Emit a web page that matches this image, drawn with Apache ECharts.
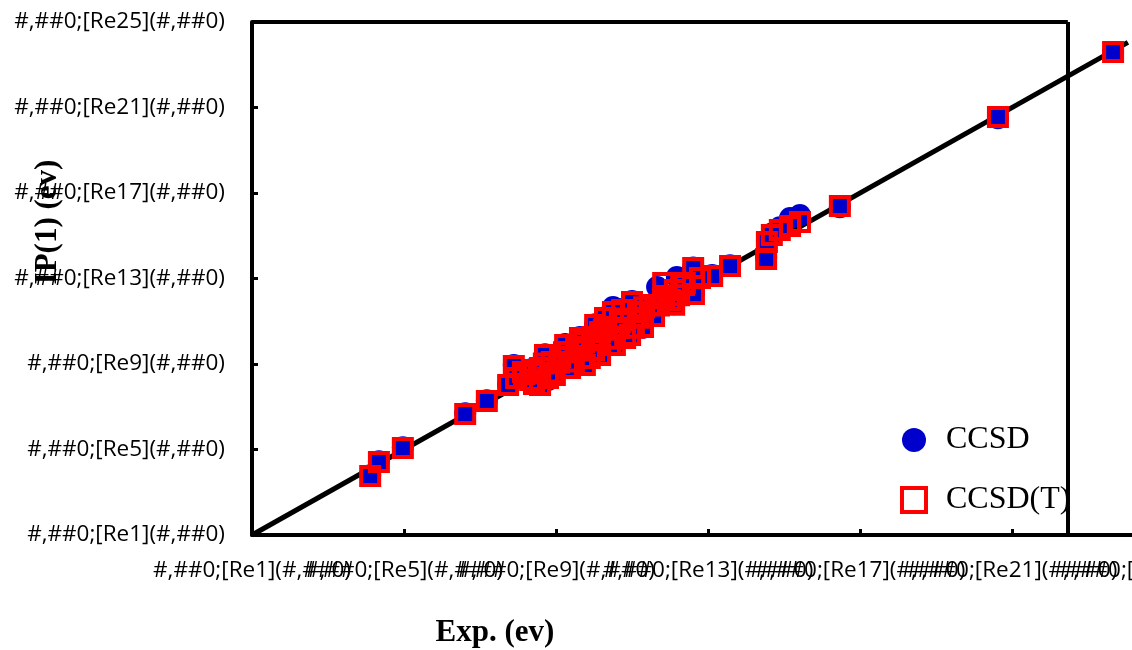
<!DOCTYPE html>
<html>
<head>
<meta charset="utf-8">
<script src="https://cdn.jsdelivr.net/npm/echarts@6/dist/echarts.min.js"></script>
<style>html,body{margin:0;padding:0;background:#fff}#c{width:1132px;height:650px}</style>
</head>
<body>
<div id="c"></div>
<script>
// ---- data ----
const tickValues = [1, 5, 9, 13, 17, 21, 25];
const labelValuesA = [1, 9, 17, 25];
const labelValuesB = [5, 13, 21];
const ccsdExp = [4.11,4.34,4.97,6.61,7.18,7.74,7.95,7.89,8.13,8.37,8.58,8.79,8.89,9.11,9.32,9.53,9.74,9.95,10.16,10.32,10.50,10.68,11.00,11.29,11.16,11.66,11.82,12.18,12.39,12.61,12.79,13.11,13.58,14.53,14.55,14.68,14.89,15.16,15.42,16.47,20.63,23.66,9.37,9.89,10.42,10.82,8.97,8.71,9.24,9.63,10.03,10.29,10.74,9.76,10.16,10.55,10.95,11.61,12.00,8.32,8.58,
  8.16,8.42,8.68,8.95,9.21,9.47,9.74,10.00,10.26,10.53,10.79,11.05,11.32,11.58,11.84,12.11,12.37,12.63,8.55,9.08,9.60,10.13,10.66,11.18,11.71,12.24];
const ccsdIP  = [3.80,4.45,5.10,6.70,7.30,8.05,8.40,8.95,8.66,8.77,8.85,8.25,9.12,9.38,9.60,9.84,10.08,10.30,10.55,10.78,11.67,11.00,11.95,10.70,11.48,12.60,12.14,13.07,12.83,13.52,13.06,13.16,13.62,14.00,14.75,15.10,15.40,15.83,15.97,16.33,20.50,23.60,8.86,9.32,9.93,10.26,8.53,9.46,9.93,10.26,10.86,11.19,11.57,8.99,9.46,9.93,10.40,11.80,12.04,8.29,8.06,
  8.57,8.10,9.06,8.63,9.59,9.15,10.12,9.69,10.64,10.21,11.17,10.73,11.70,11.27,12.22,11.80,12.74,12.31,8.61,9.10,9.67,10.15,10.73,11.20,11.78,12.26];
const ccsdtExp = [4.11,4.34,4.97,6.61,7.18,7.74,7.95,7.89,8.13,8.37,8.58,8.79,8.89,9.11,9.32,9.53,9.74,9.95,10.16,10.32,10.50,10.68,11.00,11.29,11.16,11.47,11.82,11.82,12.13,12.39,12.61,12.79,13.11,13.58,14.53,14.55,14.68,14.89,15.16,15.42,16.47,20.63,23.66,9.37,9.89,10.42,10.82,8.97,8.71,9.24,9.63,10.03,10.29,10.74,9.76,10.16,10.55,10.95,11.61,12.00,8.32,8.58,
  8.16,8.42,8.68,8.95,9.21,9.47,9.74,10.00,10.26,10.53,10.79,11.05,11.32,11.58,11.84,12.11,12.37,12.63,8.55,9.08,9.60,10.13,10.66,11.18,11.71,12.24];
const ccsdtIP  = [3.76,4.42,5.07,6.66,7.27,8.02,8.35,8.91,8.63,8.72,8.81,8.34,9.09,9.33,9.56,9.80,10.03,10.26,10.50,10.73,11.43,10.96,11.90,10.73,11.43,11.76,12.09,12.79,12.46,12.79,13.49,13.02,13.12,13.58,13.91,14.71,15.04,15.27,15.46,15.64,16.39,20.56,23.60,8.81,9.28,9.89,10.22,8.49,9.42,9.89,10.22,10.82,11.15,11.53,8.95,9.42,9.89,10.36,11.76,12.00,8.25,8.02,
  8.53,8.07,9.02,8.60,9.55,9.12,10.08,9.66,10.60,10.18,11.13,10.70,11.66,11.24,12.18,11.77,12.70,12.28,8.57,9.06,9.63,10.11,10.69,11.16,11.74,12.22];
const fitX = [1, 24.05];          // y = x reference line
const frameX = 22.47;             // right edge of the plot frame
const axisMin = 1, axisMax = 25;

const fmt = v => '#,##0;[Re' + v + '](#,##0)';
const chart = echarts.init(document.getElementById('c'));
const labelFont = { fontFamily: 'Open Sans', fontSize: 22.5, color: '#000' };

function xAxisDef(labels, showLine) {
  return {
    type: 'value', min: axisMin, max: axisMax, position: 'bottom', offset: 0,
    splitLine: { show: false },
    axisLine: { show: showLine, onZero: false, lineStyle: { color: '#000', width: 4 } },
    axisTick: { show: showLine, inside: true, length: 6, lineStyle: { color: '#000', width: 3 }, customValues: tickValues },
    axisLabel: Object.assign({ margin: 24, formatter: fmt, customValues: labels, showMinLabel: true, showMaxLabel: true, hideOverlap: false }, labelFont)
  };
}

chart.setOption({
  animation: false,
  backgroundColor: '#fff',
  grid: { left: 252, top: 22, right: -32, bottom: 115, containLabel: false, outerBoundsMode: 'none' },
  xAxis: [xAxisDef(labelValuesA, true), xAxisDef(labelValuesB, false)],
  yAxis: {
    type: 'value', min: axisMin, max: axisMax,
    splitLine: { show: false },
    axisLine: { show: true, onZero: false, lineStyle: { color: '#000', width: 4 } },
    axisTick: { show: true, inside: true, length: 6, lineStyle: { color: '#000', width: 3 }, customValues: tickValues },
    axisLabel: Object.assign({ margin: 27, formatter: fmt, customValues: tickValues, showMinLabel: true, showMaxLabel: true, hideOverlap: false }, labelFont)
  },
  legend: {
    orient: 'vertical', left: 895, top: 419,
    itemWidth: 24, itemHeight: 24, itemGap: 28,
    textStyle: { fontFamily: 'Liberation Serif', fontSize: 32, color: '#000', padding: [0, 0, 0, 15] },
    data: [
      { name: 'CCSD', icon: 'circle', itemStyle: { color: '#0000CC' } },
      { name: 'CCSD(T)', icon: 'rect', itemStyle: { color: '#fff', borderColor: '#FF0000', borderWidth: 4 } }
    ]
  },
  graphic: [
    { type: 'text', x: 495, y: 633, style: { text: 'Exp. (ev)', fontFamily: 'Liberation Serif', fontWeight: 'bold', fontSize: 31, fill: '#000', align: 'center', verticalAlign: 'middle' } },
    { type: 'text', x: 48, y: 222, rotation: Math.PI / 2, style: { text: 'IP(1) (ev)', fontFamily: 'Liberation Serif', fontWeight: 'bold', fontSize: 31, fill: '#000', align: 'center', verticalAlign: 'middle' } }
  ],
  series: [
    {
      name: 'fit', type: 'line', silent: true, symbol: 'none', z: 1,
      lineStyle: { color: '#000', width: 5 },
      data: fitX.map(v => [v, v]),
      markLine: {
        silent: true, symbol: 'none', label: { show: false },
        lineStyle: { color: '#000', width: 4, type: 'solid' },
        data: [
          [{ coord: [frameX, axisMin] }, { coord: [frameX, axisMax] }],
          [{ coord: [axisMin, axisMax] }, { coord: [frameX, axisMax] }]
        ]
      }
    },
    {
      name: 'CCSD', type: 'scatter', symbol: 'circle', symbolSize: 22, z: 2,
      itemStyle: { color: '#0000CC', opacity: 1 },
      data: ccsdExp.map((x, i) => [x, ccsdIP[i]])
    },
    {
      name: 'CCSD(T)', type: 'scatter', symbol: 'rect', symbolSize: 18, z: 3,
      itemStyle: { color: 'rgba(0,0,0,0)', borderColor: '#FF0000', borderWidth: 4, opacity: 1 },
      data: ccsdtExp.map((x, i) => [x, ccsdtIP[i]])
    }
  ]
});
</script>
</body>
</html>
